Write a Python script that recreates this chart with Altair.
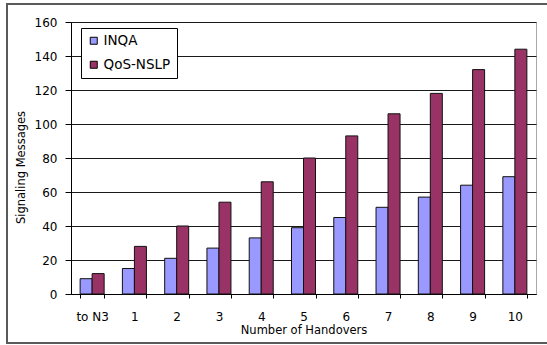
import altair as alt
import pandas as pd

# Signaling messages per protocol versus number of handovers
categories = ["to N3", "1", "2", "3", "4", "5", "6", "7", "8", "9", "10"]
inqa = [9, 15, 21, 27, 33, 39, 45, 51, 57, 64, 69]
qos_nslp = [12, 28, 40, 54, 66, 80, 93, 106, 118, 132, 144]
series = ["INQA", "QoS-NSLP"]
colors = ["#9999FF", "#993366"]
y_ticks = [0, 20, 40, 60, 80, 100, 120, 140, 160]

rows = []
for cat, a, b in zip(categories, inqa, qos_nslp):
    rows.append({"handovers": cat, "protocol": "INQA", "messages": a})
    rows.append({"handovers": cat, "protocol": "QoS-NSLP", "messages": b})
df = pd.DataFrame(rows)

FONT = "DejaVu Sans"

bars = alt.Chart(df).mark_bar(stroke="#111111", strokeWidth=1, opacity=1).encode(
    x=alt.X(
        "handovers:N",
        sort=categories,
        scale=alt.Scale(paddingInner=0.432, paddingOuter=0.216),
        axis=alt.Axis(
            title="Number of Handovers",
            labelAngle=0,
            grid=False,
            tickBand="extent",
            tickSize=4,
            tickColor="black",
            domainColor="black",
            labelPadding=13,
            labelFont=FONT,
            labelFontSize=12,
            labelColor="black",
            titleFont=FONT,
            titleFontSize=11.5,
            titleFontWeight="normal",
            titleColor="black",
            titleBaseline="top",
            titleY=30,
        ),
    ),
    xOffset=alt.XOffset(
        "protocol:N", sort=series, scale=alt.Scale(paddingInner=0, paddingOuter=0)
    ),
    y=alt.Y(
        "messages:Q",
        scale=alt.Scale(domain=[0, 160], nice=False),
        axis=alt.Axis(
            title="Signaling Messages",
            values=y_ticks,
            grid=True,
            gridColor="#1a1a1a",
            gridWidth=1,
            tickSize=6,
            tickColor="black",
            domainColor="black",
            labelPadding=8,
            labelFont=FONT,
            labelFontSize=12,
            labelColor="black",
            titleFont=FONT,
            titleFontSize=11.5,
            titleFontWeight="normal",
            titleColor="black",
            titleX=-50,
            titleY=145,
            titleBaseline="middle",
            titleAlign="center",
        ),
    ),
    color=alt.Color(
        "protocol:N",
        sort=series,
        scale=alt.Scale(domain=series, range=colors),
        legend=alt.Legend(
            title=None,
            orient="none",
            legendX=10,
            legendY=6,
            strokeColor="black",
            fillColor="white",
            padding=6,
            symbolType="square",
            symbolSize=49,
            symbolStrokeColor="black",
            symbolStrokeWidth=1,
            symbolOpacity=1,
            labelFont=FONT,
            labelFontSize=13.5,
            labelColor="black",
            labelOffset=3,
            rowPadding=9,
        ),
    ),
)

# Outer chart frame
frame = alt.Chart(pd.DataFrame({"k": [0]})).mark_rect(
    fillOpacity=0, stroke="#5a5a5a", strokeWidth=2
).encode(
    x=alt.value(-64), x2=alt.value(490), y=alt.value(-18), y2=alt.value(321)
)

chart = (
    alt.layer(frame, bars)
    .properties(
        width=465,
        height=272,
        autosize=alt.AutoSizeParams(type="none"),
        padding={"left": 71, "top": 22, "right": 11, "bottom": 51},
        background="white",
    )
    .configure_view(stroke="#a8a8a8", strokeWidth=1)
)

chart.save("out.html", embed_options={"renderer": "svg", "actions": False})
